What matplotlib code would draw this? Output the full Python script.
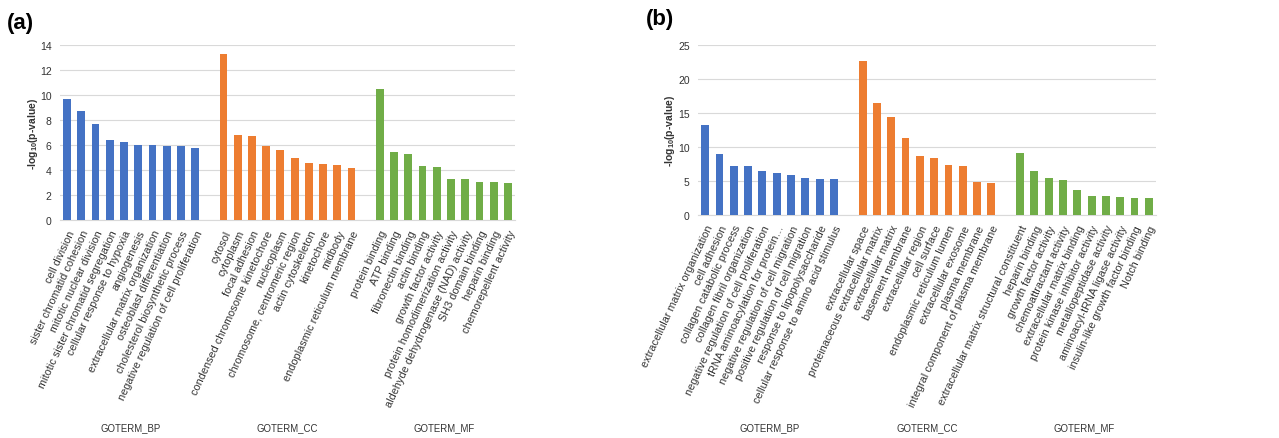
import matplotlib
matplotlib.use("Agg")
import matplotlib.pyplot as plt
import matplotlib.transforms as mtransforms

plt.rcParams['font.family'] = ['Liberation Sans', 'DejaVu Sans']
plt.rcParams['mathtext.fontset'] = 'custom'
plt.rcParams['mathtext.rm'] = 'Liberation Sans:bold'
plt.rcParams['mathtext.it'] = 'Liberation Sans:italic'
plt.rcParams['mathtext.bf'] = 'Liberation Sans:bold'

groups = ["GOTERM_BP", "GOTERM_CC", "GOTERM_MF"]
colors = ["#4472C4", "#ED7D31", "#70AD47"]

a_bp_terms = ["cell division", "sister chromatid cohesion", "mitotic nuclear division",
              "mitotic sister chromatid segregation", "cellular response to hypoxia",
              "angiogenesis", "extracellular matrix organization",
              "osteoblast differentiation", "cholesterol biosynthetic process",
              "negative regulation of cell proliferation"]
a_bp_vals = [9.68, 8.75, 7.68, 6.43, 6.27, 6.03, 6.03, 5.89, 5.89, 5.73]
a_cc_terms = ["cytosol", "cytoplasm", "focal adhesion", "condensed chromosome kinetochore",
              "nucleoplasm", "chromosome, centromeric region", "actin cytoskeleton",
              "kinetochore", "midbody", "endoplasmic reticulum membrane"]
a_cc_vals = [13.28, 6.83, 6.72, 5.92, 5.63, 4.96, 4.56, 4.45, 4.40, 4.13]
a_mf_terms = ["protein binding", "ATP binding", "fibronectin binding", "actin binding",
              "growth factor activity", "protein homodimerization activity",
              "aldehyde dehydrogenase (NAD) activity", "SH3 domain binding",
              "heparin binding", "chemorepellent activity"]
a_mf_vals = [10.50, 5.44, 5.31, 4.29, 4.21, 3.31, 3.25, 3.07, 3.01, 2.93]

b_bp_terms = ["extracellular matrix organization", "cell adhesion",
              "collagen catabolic process", "collagen fibril organization",
              "negative regulation of cell proliferation",
              "tRNA aminoacylation for protein\u2026",
              "negative regulation of cell migration",
              "positive regulation of cell migration",
              "response to lipopolysaccharide",
              "cellular response to amino acid stimulus"]
b_bp_vals = [13.24, 9.02, 7.25, 7.25, 6.52, 6.18, 5.83, 5.44, 5.34, 5.25]
b_cc_terms = ["extracellular space", "proteinaceous extracellular matrix",
              "extracellular matrix", "basement membrane", "extracellular region",
              "cell surface", "endoplasmic reticulum lumen", "extracellular exosome",
              "plasma membrane", "integral component of plasma membrane"]
b_cc_vals = [22.60, 16.42, 14.46, 11.27, 8.68, 8.38, 7.40, 7.25, 4.85, 4.75]
b_mf_terms = ["extracellular matrix structural constituent", "heparin binding",
              "growth factor activity", "chemoattractant activity",
              "extracellular matrix binding", "protein kinase inhibitor activity",
              "metallopeptidase activity", "aminoacyl-tRNA ligase activity",
              "insulin-like growth factor binding", "Notch binding"]
b_mf_vals = [9.12, 6.52, 5.44, 5.10, 3.68, 2.84, 2.84, 2.65, 2.50, 2.50]

a_ticks = [0, 2, 4, 6, 8, 10, 12, 14]
b_ticks = [0, 5, 10, 15, 20, 25]

fig = plt.figure(figsize=(12.79, 4.39), dpi=100)
TXT = "#333333"


def draw_panel(rect, terms, vals, ticks, letter, letter_pos, ylabel_x):
    ax = fig.add_axes(rect)
    positions = []
    labels = []
    pos = 0
    centers = []
    for gi in range(3):
        xs = list(range(pos, pos + len(vals[gi])))
        ax.bar(xs, vals[gi], width=0.55, color=colors[gi], zorder=3)
        positions += xs
        labels += terms[gi]
        centers.append((xs[0] + xs[-1]) / 2)
        pos += len(vals[gi]) + 1
    ax.set_xlim(-0.5, pos - 1.5)
    ax.set_ylim(ticks[0], ticks[-1])
    ax.set_yticks(ticks)
    ax.yaxis.grid(True, color="#d9d9d9", linewidth=0.8, zorder=0)
    ax.set_axisbelow(True)
    for s in ["top", "right", "left"]:
        ax.spines[s].set_visible(False)
    ax.spines["bottom"].set_color("#d9d9d9")
    ax.spines["bottom"].set_linewidth(0.8)
    ax.tick_params(axis="both", length=0, labelsize=7.5, colors=TXT)
    ax.tick_params(axis="y", pad=6)
    ax.set_xticks(positions)
    ax.set_xticklabels(labels, rotation=65, ha="right", rotation_mode="anchor",
                       fontsize=7.8, color=TXT)
    ax.tick_params(axis="x", pad=6)
    trans = mtransforms.blended_transform_factory(ax.transData, fig.transFigure)
    for gi in range(3):
        ax.text(centers[gi], 1 - 428 / 439, groups[gi], transform=trans,
                ha="center", va="center", fontsize=6.9, color=TXT)
    fig.text(ylabel_x, (rect[1] + rect[1] + rect[3]) / 2, r"-log$_{10}$(p-value)",
             rotation=90, ha="center", va="center", fontsize=7.5, color=TXT,
             fontweight="bold")
    fig.text(letter_pos[0], letter_pos[1], letter, fontsize=16, fontweight="bold",
             ha="left", va="center", color="black")
    return ax


draw_panel([60 / 1279, 1 - 221 / 439, 455 / 1279, 175 / 439],
           [a_bp_terms, a_cc_terms, a_mf_terms], [a_bp_vals, a_cc_vals, a_mf_vals],
           a_ticks, "(a)", (7 / 1279, 1 - 24 / 439), 33 / 1279)
draw_panel([698 / 1279, 1 - 216 / 439, 458 / 1279, 170 / 439],
           [b_bp_terms, b_cc_terms, b_mf_terms], [b_bp_vals, b_cc_vals, b_mf_vals],
           b_ticks, "(b)", (646 / 1279, 1 - 20 / 439), 670 / 1279)

fig.savefig("out.png", dpi=100)
